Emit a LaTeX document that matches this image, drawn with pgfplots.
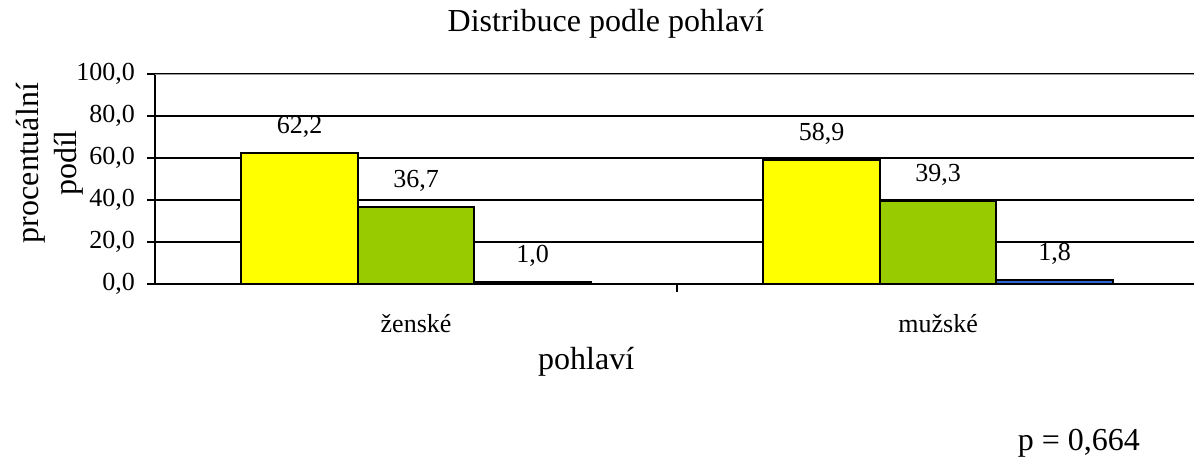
\documentclass[border=0pt]{standalone}
\usepackage{pgfplots}
\pgfplotsset{compat=1.18}
\usepackage{fontspec}
\setmainfont{Liberation Serif}
\definecolor{byellow}{HTML}{FFFF00}
\definecolor{bgreen}{HTML}{99CC00}
\definecolor{bblue}{HTML}{3366CC}
\begin{document}
\begin{tikzpicture}
\useasboundingbox (0,0) rectangle (597pt,228.5pt);
\begin{axis}[
  at={(77.5pt,86.5pt)}, anchor=south west,
  scale only axis, width=519.5pt, height=105pt,
  xmin=-0.5, xmax=1.49, ymin=0, ymax=100,
  axis x line*=bottom, axis y line*=left,
  x axis line style={-}, y axis line style={-},
  axis line style={black, line width=1.2pt},
  ytick={0,20,...,100},
  ymajorgrids, grid style={black, line width=1pt},
  tick align=outside, major tick length=4pt,
  tick style={black, line width=1.2pt},
  xtick={0.5}, xticklabels={},
  extra x ticks={0,1}, extra x tick labels={ženské,mužské},
  extra x tick style={major tick length=0pt, tick style={draw=none}, xticklabel style={yshift=-11.5pt}},
  ticklabel style={font=\fontsize{13}{15}\selectfont},
  yticklabel style={xshift=-2.5pt},
  /pgf/number format/fixed, /pgf/number format/fixed zerofill,
  /pgf/number format/precision=1, /pgf/number format/use comma,
  /pgf/number format/assume math mode=true,
  title={Distribuce podle pohlaví},
  title style={font=\fontsize{16}{19}\selectfont, at={(axis description cs:0.434,1.181)}, anchor=center},
  xlabel={pohlaví},
  xlabel style={font=\fontsize{16}{19}\selectfont, at={(axis description cs:0.415,-0.371)}, anchor=center},
  ylabel={procentuální\\podíl},
  ylabel style={font=\fontsize{16}{19}\selectfont, align=center, at={(axis description cs:-0.101,0.576)}, anchor=center},
  ybar=0pt, bar width=58.25pt,
  nodes near coords={\pgfmathprintnumber[fixed,fixed zerofill,precision=1,use comma,assume math mode=true]{\pgfplotspointmeta}},
  every node near coord/.append style={font=\fontsize{13}{15}\selectfont, black, anchor=south, yshift=4pt},
]
\addplot[fill=byellow, draw=black, line width=1pt] coordinates {(0,62.2) (1,58.9)};
\addplot[fill=bgreen, draw=black, line width=1pt] coordinates {(0,36.7) (1,39.3)};
\addplot[fill=bblue, draw=black, line width=1pt] coordinates {(0,1.0) (1,1.8)};
\draw[gray!80, line width=1pt] (axis cs:-0.5,100) -- (axis cs:1.49,100);
\end{axis}
\node[font=\fontsize{16}{19}\selectfont, anchor=base east] at (573.5pt,3.5pt) {p = 0,664};
\end{tikzpicture}
\end{document}
